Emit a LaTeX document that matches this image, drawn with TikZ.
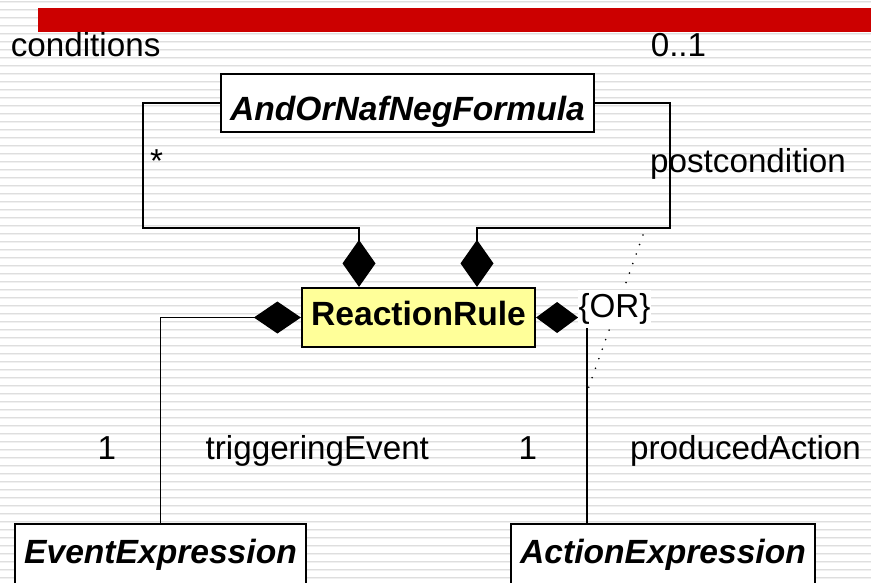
\documentclass[tikz,border=0pt]{standalone}
\usepackage{fontspec}
\setmainfont{Liberation Sans}
\usetikzlibrary{arrows.meta}
\definecolor{barred}{RGB}{204,0,0}
\definecolor{ruleyellow}{RGB}{255,255,153}
\definecolor{stripeA}{RGB}{222,222,222}
\definecolor{stripeB}{RGB}{240,240,240}

\begin{document}
\begin{tikzpicture}[x=1pt,y=-1pt,
  classbox/.style={draw=black, line width=2.2pt, fill=white, inner sep=0pt,
    font=\fontsize{33.6}{40}\selectfont\bfseries\itshape},
  rulebox/.style={classbox, fill=ruleyellow,
    font=\fontsize{33.6}{40}\selectfont\bfseries},
  conn/.style={draw=black, line width=1.4pt},
  comp/.style n args={2}{conn, -{Diamond[length=#1pt,width=#2pt]}},
  lbl/.style={inner sep=0pt, anchor=base west,
    font=\fontsize{33.2}{40}\selectfont},
  constraint/.style={line width=1.8pt, line cap=round,
    dash pattern=on 0pt off 10.1pt}
]
\useasboundingbox (0,0) rectangle (871,582);
\clip (0,0) rectangle (871,582);

% striped slide background
\fill[white] (0,0) rectangle (871,582);
\foreach \k in {0,...,72} {
  \draw[stripeA, line width=1pt] (0,1.5+8*\k) -- (871,1.5+8*\k);
  \draw[stripeB, line width=1pt] (0,2.5+8*\k) -- (871,2.5+8*\k);
}

% title bar
\fill[barred] (38,8) rectangle (871,32);

% classes
\node[classbox, minimum width=373pt, minimum height=58pt,
      text height=34pt, text depth=0pt] (formula) at (407.5,103) {AndOrNafNegFormula};
\node[rulebox, minimum width=233pt, minimum height=59pt,
      text height=24pt, text depth=9pt] (rule) at (418.5,317.5) {ReactionRule};
\node[classbox, minimum width=291pt, minimum height=78pt,
      text height=12pt, text depth=12pt] (event) at (160.5,563) {EventExpression};
\node[classbox, minimum width=304pt, minimum height=78pt,
      text height=12pt, text depth=12pt] (action) at (663,563) {ActionExpression};

% bends of the associations
\coordinate (condBend) at (143,228);
\coordinate (condDrop) at (359,228);
\coordinate (postBend) at (670,228);
\coordinate (postDrop) at (477,228);
\coordinate (actTop) at (587,524);

% composition associations
\draw[comp={47}{33}] (formula.west) -| (condBend) -| (condDrop |- rule.north);
\draw[comp={47}{33}] (formula.east) -| (postBend) -| (postDrop |- rule.north);
\draw[comp={47}{32}] (event.north) |- (rule.west);
\draw[comp={42}{31}] (actTop) |- (rule.east);

% {OR} constraint between postcondition and producedAction
\coordinate (orA) at (643,235);
\coordinate (orB) at (587,392);
\draw[constraint] (orA) -- (orB);
\node[fill=white, inner sep=0pt, minimum width=73pt, minimum height=38pt,
      font=\fontsize{33.2}{40}\selectfont] (orlabel) at (614.5,309) {\{OR\}};

% role names and multiplicities
\node[lbl] (lcond) at (10.7,56) {conditions};
\node[lbl] (lzeroone) at (650.6,56) {0..1};
\node[lbl] (lstar) at (150,172) {*};
\node[lbl] (lpost) at (650,172) {postcondition};
\node[lbl] (loneE) at (97.5,459) {1};
\node[lbl] (ltrig) at (205.5,459) {triggeringEvent};
\node[lbl] (loneA) at (518.5,459) {1};
\node[lbl] (lprod) at (630,459) {producedAction};
\end{tikzpicture}
\end{document}
